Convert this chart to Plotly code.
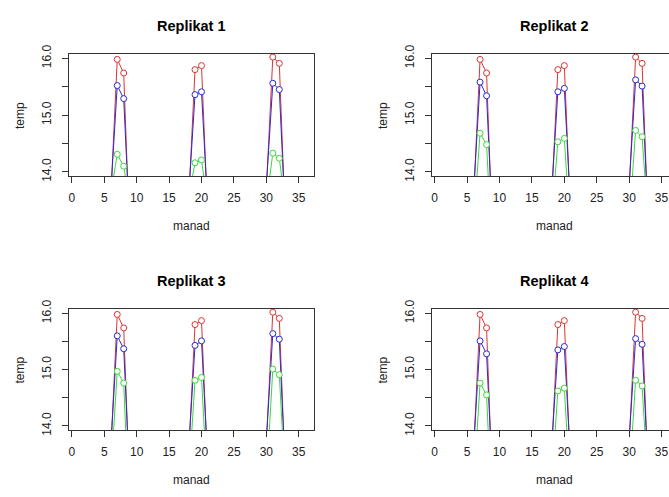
import plotly.graph_objects as go

W, H = 669, 497

manad = list(range(1, 37))

# Red series (same in all four replicates)
red = [4.1, 3.6, 4.4, 6.9, 10.2, 13.55, 15.98, 15.74, 12.60, 9.8, 7.1, 5.0,
       4.0, 3.5, 4.6, 7.2, 10.4, 13.45, 15.80, 15.87, 13.10, 10.0, 7.3, 5.2,
       4.2, 3.7, 4.5, 7.0, 10.3, 13.70, 16.02, 15.91, 12.90, 9.9, 7.0, 4.9]

blue_1 = [3.8, 3.3, 4.1, 6.6, 9.9, 13.62, 15.52, 15.29, 12.85, 9.5, 6.8, 4.7,
          3.7, 3.2, 4.3, 6.9, 10.1, 13.55, 15.36, 15.41, 13.28, 9.7, 7.0, 4.9,
          3.9, 3.4, 4.2, 6.7, 10.0, 13.75, 15.56, 15.45, 13.00, 9.6, 6.7, 4.6]
blue_2 = [3.8, 3.3, 4.1, 6.6, 9.9, 13.62, 15.58, 15.34, 12.85, 9.5, 6.8, 4.7,
          3.7, 3.2, 4.3, 6.9, 10.1, 13.55, 15.41, 15.47, 13.28, 9.7, 7.0, 4.9,
          3.9, 3.4, 4.2, 6.7, 10.0, 13.75, 15.62, 15.51, 13.00, 9.6, 6.7, 4.6]
blue_3 = [3.8, 3.3, 4.1, 6.6, 9.9, 13.62, 15.60, 15.37, 12.85, 9.5, 6.8, 4.7,
          3.7, 3.2, 4.3, 6.9, 10.1, 13.55, 15.43, 15.51, 13.28, 9.7, 7.0, 4.9,
          3.9, 3.4, 4.2, 6.7, 10.0, 13.75, 15.64, 15.54, 13.00, 9.6, 6.7, 4.6]
blue_4 = [3.8, 3.3, 4.1, 6.6, 9.9, 13.62, 15.51, 15.28, 12.85, 9.5, 6.8, 4.7,
          3.7, 3.2, 4.3, 6.9, 10.1, 13.55, 15.35, 15.41, 13.28, 9.7, 7.0, 4.9,
          3.9, 3.4, 4.2, 6.7, 10.0, 13.75, 15.55, 15.45, 13.00, 9.6, 6.7, 4.6]

green_1 = [3.3, 2.8, 3.6, 6.1, 9.4, 13.62, 14.31, 14.10, 13.40, 9.0, 6.3, 4.2,
           3.2, 2.7, 3.8, 6.4, 9.6, 13.55, 14.16, 14.21, 13.40, 9.2, 6.5, 4.4,
           3.4, 2.9, 3.7, 6.2, 9.5, 13.45, 14.33, 14.24, 13.35, 9.1, 6.2, 4.1]
green_2 = [3.3, 2.8, 3.6, 6.1, 9.4, 13.10, 14.68, 14.48, 12.30, 9.0, 6.3, 4.2,
           3.2, 2.7, 3.8, 6.4, 9.6, 13.10, 14.53, 14.59, 12.80, 9.2, 6.5, 4.4,
           3.4, 2.9, 3.7, 6.2, 9.5, 13.10, 14.73, 14.62, 13.00, 9.1, 6.2, 4.1]
green_3 = [3.3, 2.8, 3.6, 6.1, 9.4, 13.10, 14.97, 14.76, 12.00, 9.0, 6.3, 4.2,
           3.2, 2.7, 3.8, 6.4, 9.6, 13.00, 14.81, 14.86, 12.70, 9.2, 6.5, 4.4,
           3.4, 2.9, 3.7, 6.2, 9.5, 13.00, 15.01, 14.91, 12.80, 9.1, 6.2, 4.1]
green_4 = [3.3, 2.8, 3.6, 6.1, 9.4, 12.90, 14.76, 14.55, 12.00, 9.0, 6.3, 4.2,
           3.2, 2.7, 3.8, 6.4, 9.6, 12.90, 14.62, 14.67, 12.70, 9.2, 6.5, 4.4,
           3.4, 2.9, 3.7, 6.2, 9.5, 13.00, 14.81, 14.71, 12.80, 9.1, 6.2, 4.1]

titles = ["Replikat 1", "Replikat 2", "Replikat 3", "Replikat 4"]
blues = [blue_1, blue_2, blue_3, blue_4]
greens = [green_1, green_2, green_3, green_4]

x_ticks = [0, 5, 10, 15, 20, 25, 30, 35]
y_ticks = [14.0, 14.5, 15.0, 15.5, 16.0]
y_ticktext = ["14.0", "", "15.0", "", "16.0"]

x_label = "manad"
y_label = "temp"

RED, BLUE, GREEN = "#DD3333", "#2A2AD0", "#3AD83A"
AX = "#333333"
FONT = "Liberation Sans, Arial, sans-serif"

# panel geometry in pixels: (left, right, top, bottom)
panels = [
    (68.3, 313.0, 46.0, 172.3),
    (431.7, 669.0, 46.0, 172.3),
    (68.3, 313.0, 308.5, 433.6),
    (431.7, 669.0, 308.5, 433.6),
]
xranges = [[-0.41, 37.28], [-0.41, 36.15], [-0.41, 37.28], [-0.41, 36.15]]
yrange = [13.92, 16.08]
title_cx = [190.6, 553.9, 190.6, 553.9]
ylab_x = [19.0, 382.5, 19.0, 382.5]

fig = go.Figure()
layout = dict(
    width=W, height=H, margin=dict(l=0, r=0, t=0, b=0),
    paper_bgcolor="white", plot_bgcolor="white", showlegend=False,
    font=dict(family=FONT, size=12, color="#222222"),
)
annotations = []

for i in range(4):
    l, r, t, b = panels[i]
    xa = "x" if i == 0 else f"x{i+1}"
    ya = "y" if i == 0 else f"y{i+1}"
    for ys, col in [(red, RED), (blues[i], BLUE), (greens[i], GREEN)]:
        fig.add_trace(go.Scatter(
            x=manad, y=ys, mode="lines+markers", xaxis=xa, yaxis=ya,
            line=dict(color=col, width=1),
            marker=dict(symbol="circle", size=6, color="white",
                        line=dict(color=col, width=1)),
            hoverinfo="skip"))
    right_panel = i in (1, 3)
    layout["xaxis" if i == 0 else f"xaxis{i+1}"] = dict(
        domain=[l / W, r / W], range=xranges[i], anchor=ya,
        tickmode="array", tickvals=x_ticks, ticks="outside", ticklen=6,
        tickwidth=1, tickcolor=AX, showgrid=False, zeroline=False,
        showline=True, linecolor=AX, linewidth=1, mirror=True,
        ticklabelstandoff=4, tickfont=dict(size=12, color="#222222"))
    layout["yaxis" if i == 0 else f"yaxis{i+1}"] = dict(
        domain=[1 - b / H, 1 - t / H], range=yrange, anchor=xa,
        tickmode="array", tickvals=y_ticks, ticktext=y_ticktext,
        ticks="outside", ticklen=6, tickwidth=1, tickcolor=AX,
        tickangle=-90, showgrid=False, zeroline=False,
        showline=True, linecolor=AX, linewidth=1, mirror=not right_panel,
        ticklabelstandoff=6, tickfont=dict(size=12, color="#222222"))
    annotations.append(dict(
        text=f"<b>{titles[i]}</b>", x=title_cx[i] / W, y=1 - (t - 29) / H,
        xref="paper", yref="paper", xanchor="center", yanchor="middle",
        showarrow=False, font=dict(size=14.5, color="black", family=FONT)))
    annotations.append(dict(
        text=x_label, x=title_cx[i] / W, y=1 - (b + 51.5) / H,
        xref="paper", yref="paper", xanchor="center", yanchor="middle",
        showarrow=False, font=dict(size=12, color="#222222", family=FONT)))
    annotations.append(dict(
        text=y_label, x=ylab_x[i] / W, y=1 - ((t + b) / 2) / H,
        xref="paper", yref="paper", xanchor="center", yanchor="middle",
        textangle=-90, showarrow=False,
        font=dict(size=12, color="#222222", family=FONT)))

layout["annotations"] = annotations
fig.update_layout(**layout)
fig.write_html("out.html")
